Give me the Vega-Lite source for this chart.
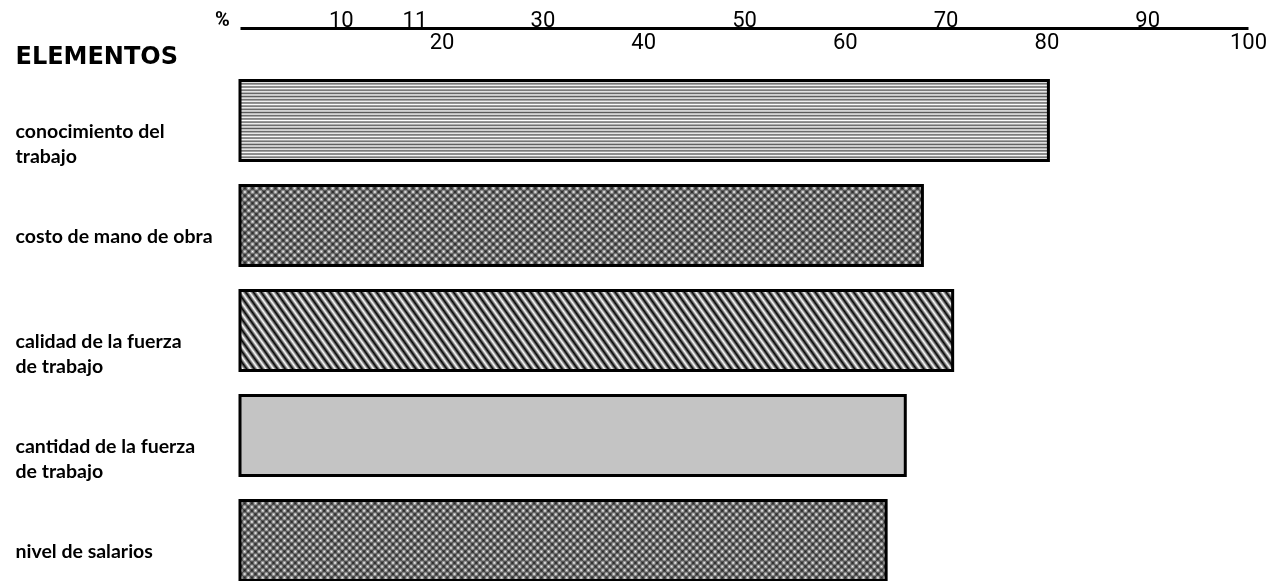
{
  "$schema": "https://vega.github.io/schema/vega-lite/v6.json",
  "width": 1008,
  "height": 513,
  "autosize": {"type": "none"},
  "padding": {"left": 240, "top": 68, "right": 23, "bottom": 0},
  "background": "#ffffff",
  "config": {"view": {"stroke": null}},
  "params": [
    {"name": "g", "value": {"gradient": "linear", "x1": 0, "y1": 1, "x2": 1.0731, "y2": 0.9142, "stops": [
      {"offset":0,"color":"#000"},{"offset":0.005,"color":"#fff"},{"offset":0.01,"color":"#000"},{"offset":0.015,"color":"#fff"},{"offset":0.02,"color":"#000"},{"offset":0.025,"color":"#fff"},{"offset":0.03,"color":"#000"},{"offset":0.035,"color":"#fff"},{"offset":0.04,"color":"#000"},{"offset":0.045,"color":"#fff"},
      {"offset":0.05,"color":"#000"},{"offset":0.055,"color":"#fff"},{"offset":0.06,"color":"#000"},{"offset":0.065,"color":"#fff"},{"offset":0.07,"color":"#000"},{"offset":0.075,"color":"#fff"},{"offset":0.08,"color":"#000"},{"offset":0.085,"color":"#fff"},{"offset":0.09,"color":"#000"},{"offset":0.095,"color":"#fff"},
      {"offset":0.1,"color":"#000"},{"offset":0.105,"color":"#fff"},{"offset":0.11,"color":"#000"},{"offset":0.115,"color":"#fff"},{"offset":0.12,"color":"#000"},{"offset":0.125,"color":"#fff"},{"offset":0.13,"color":"#000"},{"offset":0.135,"color":"#fff"},{"offset":0.14,"color":"#000"},{"offset":0.145,"color":"#fff"},
      {"offset":0.15,"color":"#000"},{"offset":0.155,"color":"#fff"},{"offset":0.16,"color":"#000"},{"offset":0.165,"color":"#fff"},{"offset":0.17,"color":"#000"},{"offset":0.175,"color":"#fff"},{"offset":0.18,"color":"#000"},{"offset":0.185,"color":"#fff"},{"offset":0.19,"color":"#000"},{"offset":0.195,"color":"#fff"},
      {"offset":0.2,"color":"#000"},{"offset":0.205,"color":"#fff"},{"offset":0.21,"color":"#000"},{"offset":0.215,"color":"#fff"},{"offset":0.22,"color":"#000"},{"offset":0.225,"color":"#fff"},{"offset":0.23,"color":"#000"},{"offset":0.235,"color":"#fff"},{"offset":0.24,"color":"#000"},{"offset":0.245,"color":"#fff"},
      {"offset":0.25,"color":"#000"},{"offset":0.255,"color":"#fff"},{"offset":0.26,"color":"#000"},{"offset":0.265,"color":"#fff"},{"offset":0.27,"color":"#000"},{"offset":0.275,"color":"#fff"},{"offset":0.28,"color":"#000"},{"offset":0.285,"color":"#fff"},{"offset":0.29,"color":"#000"},{"offset":0.295,"color":"#fff"},
      {"offset":0.3,"color":"#000"},{"offset":0.305,"color":"#fff"},{"offset":0.31,"color":"#000"},{"offset":0.315,"color":"#fff"},{"offset":0.32,"color":"#000"},{"offset":0.325,"color":"#fff"},{"offset":0.33,"color":"#000"},{"offset":0.335,"color":"#fff"},{"offset":0.34,"color":"#000"},{"offset":0.345,"color":"#fff"},
      {"offset":0.35,"color":"#000"},{"offset":0.355,"color":"#fff"},{"offset":0.36,"color":"#000"},{"offset":0.365,"color":"#fff"},{"offset":0.37,"color":"#000"},{"offset":0.375,"color":"#fff"},{"offset":0.38,"color":"#000"},{"offset":0.385,"color":"#fff"},{"offset":0.39,"color":"#000"},{"offset":0.395,"color":"#fff"},
      {"offset":0.4,"color":"#000"},{"offset":0.405,"color":"#fff"},{"offset":0.41,"color":"#000"},{"offset":0.415,"color":"#fff"},{"offset":0.42,"color":"#000"},{"offset":0.425,"color":"#fff"},{"offset":0.43,"color":"#000"},{"offset":0.435,"color":"#fff"},{"offset":0.44,"color":"#000"},{"offset":0.445,"color":"#fff"},
      {"offset":0.45,"color":"#000"},{"offset":0.455,"color":"#fff"},{"offset":0.46,"color":"#000"},{"offset":0.465,"color":"#fff"},{"offset":0.47,"color":"#000"},{"offset":0.475,"color":"#fff"},{"offset":0.48,"color":"#000"},{"offset":0.485,"color":"#fff"},{"offset":0.49,"color":"#000"},{"offset":0.495,"color":"#fff"},
      {"offset":0.5,"color":"#000"},{"offset":0.505,"color":"#fff"},{"offset":0.51,"color":"#000"},{"offset":0.515,"color":"#fff"},{"offset":0.52,"color":"#000"},{"offset":0.525,"color":"#fff"},{"offset":0.53,"color":"#000"},{"offset":0.535,"color":"#fff"},{"offset":0.54,"color":"#000"},{"offset":0.545,"color":"#fff"},
      {"offset":0.55,"color":"#000"},{"offset":0.555,"color":"#fff"},{"offset":0.56,"color":"#000"},{"offset":0.565,"color":"#fff"},{"offset":0.57,"color":"#000"},{"offset":0.575,"color":"#fff"},{"offset":0.58,"color":"#000"},{"offset":0.585,"color":"#fff"},{"offset":0.59,"color":"#000"},{"offset":0.595,"color":"#fff"},
      {"offset":0.6,"color":"#000"},{"offset":0.605,"color":"#fff"},{"offset":0.61,"color":"#000"},{"offset":0.615,"color":"#fff"},{"offset":0.62,"color":"#000"},{"offset":0.625,"color":"#fff"},{"offset":0.63,"color":"#000"},{"offset":0.635,"color":"#fff"},{"offset":0.64,"color":"#000"},{"offset":0.645,"color":"#fff"},
      {"offset":0.65,"color":"#000"},{"offset":0.655,"color":"#fff"},{"offset":0.66,"color":"#000"},{"offset":0.665,"color":"#fff"},{"offset":0.67,"color":"#000"},{"offset":0.675,"color":"#fff"},{"offset":0.68,"color":"#000"},{"offset":0.685,"color":"#fff"},{"offset":0.69,"color":"#000"},{"offset":0.695,"color":"#fff"},
      {"offset":0.7,"color":"#000"},{"offset":0.705,"color":"#fff"},{"offset":0.71,"color":"#000"},{"offset":0.715,"color":"#fff"},{"offset":0.72,"color":"#000"},{"offset":0.725,"color":"#fff"},{"offset":0.73,"color":"#000"},{"offset":0.735,"color":"#fff"},{"offset":0.74,"color":"#000"},{"offset":0.745,"color":"#fff"},
      {"offset":0.75,"color":"#000"},{"offset":0.755,"color":"#fff"},{"offset":0.76,"color":"#000"},{"offset":0.765,"color":"#fff"},{"offset":0.77,"color":"#000"},{"offset":0.775,"color":"#fff"},{"offset":0.78,"color":"#000"},{"offset":0.785,"color":"#fff"},{"offset":0.79,"color":"#000"},{"offset":0.795,"color":"#fff"},
      {"offset":0.8,"color":"#000"},{"offset":0.805,"color":"#fff"},{"offset":0.81,"color":"#000"},{"offset":0.815,"color":"#fff"},{"offset":0.82,"color":"#000"},{"offset":0.825,"color":"#fff"},{"offset":0.83,"color":"#000"},{"offset":0.835,"color":"#fff"},{"offset":0.84,"color":"#000"},{"offset":0.845,"color":"#fff"},
      {"offset":0.85,"color":"#000"},{"offset":0.855,"color":"#fff"},{"offset":0.86,"color":"#000"},{"offset":0.865,"color":"#fff"},{"offset":0.87,"color":"#000"},{"offset":0.875,"color":"#fff"},{"offset":0.88,"color":"#000"},{"offset":0.885,"color":"#fff"},{"offset":0.89,"color":"#000"},{"offset":0.895,"color":"#fff"},
      {"offset":0.9,"color":"#000"},{"offset":0.905,"color":"#fff"},{"offset":0.91,"color":"#000"},{"offset":0.915,"color":"#fff"},{"offset":0.92,"color":"#000"},{"offset":0.925,"color":"#fff"},{"offset":0.93,"color":"#000"},{"offset":0.935,"color":"#fff"},{"offset":0.94,"color":"#000"},{"offset":0.945,"color":"#fff"},
      {"offset":0.95,"color":"#000"},{"offset":0.955,"color":"#fff"},{"offset":0.96,"color":"#000"},{"offset":0.965,"color":"#fff"},{"offset":0.97,"color":"#000"},{"offset":0.975,"color":"#fff"},{"offset":0.98,"color":"#000"},{"offset":0.985,"color":"#fff"},{"offset":0.99,"color":"#000"},{"offset":0.995,"color":"#fff"},
      {"offset":1,"color":"#000"}
    ]}},
    {"name": "hl", "expr": "merge(g, {x1: 0, y1: 0, x2: 0.001, y2: 4})"},
    {"name": "dA", "expr": "merge(g, {x1: 0, y1: 1, x2: 1.1041, y2: 0.8675})"},
    {"name": "dB", "expr": "merge(g, {x1: 0, y1: 0, x2: 1.1041, y2: 0.1325})"}
  ],
  "data": {"values": [
    {"elemento": "conocimiento del|trabajo", "pct": 80.2},
    {"elemento": "costo de mano de obra", "pct": 67.7},
    {"elemento": "calidad de la fuerza|de trabajo", "pct": 70.7},
    {"elemento": "cantidad de la fuerza|de trabajo", "pct": 66.0},
    {"elemento": "nivel de salarios", "pct": 64.1}
  ]},
  "encoding": {
    "x": {
      "field": "pct", "type": "quantitative",
      "scale": {"domain": [0, 100], "nice": false},
      "axis": {
        "orient": "top", "offset": 40, "domainColor": "#000", "domainWidth": 3,
        "ticks": false, "tickSize": 0, "grid": false,
        "values": [10, 17.3, 20, 30, 40, 50, 60, 70, 80, 90, 100],
        "labelExpr": "datum.value == 17.3 ? ['11', ''] : (datum.value % 20 == 0 ? ['', datum.label] : [datum.label, ''])",
        "labelBaseline": "middle", "labelLineHeight": 22, "labelPadding": 9,
        "labelFont": "Roboto", "labelFontSize": 22, "labelColor": "#000",
        "labelFlush": false, "labelOverlap": false, "labelBound": false,
        "title": "%", "titleX": -18, "titleY": -9, "titleAlign": "center", "titleBaseline": "middle",
        "titleAngle": 0, "titleFont": "Roboto", "titleFontSize": 20, "titleFontWeight": "bold", "titleColor": "#000"
      }
    },
    "y": {
      "field": "elemento", "type": "nominal",
      "scale": {
        "domain": ["conocimiento del|trabajo", "costo de mano de obra", "calidad de la fuerza|de trabajo", "cantidad de la fuerza|de trabajo", "nivel de salarios"],
        "range": [0, 525], "paddingInner": 0.24, "paddingOuter": 0.12
      },
      "axis": {
        "orient": "left", "domain": false, "ticks": false, "tickSize": 0, "grid": false,
        "labelExpr": "split(datum.label, '|')",
        "labelAlign": "left", "labelBaseline": "top", "labelPadding": 225, "labelOffset": 2,
        "labelFont": "Lato", "labelFontWeight": "bold", "labelFontSize": 19.5, "labelLineHeight": 25,
        "labelLimit": 300, "labelColor": "#000",
        "title": "ELEMENTOS", "titleAngle": 0, "titleAlign": "left", "titleBaseline": "alphabetic",
        "titleX": -225, "titleY": -5, "titleFont": "DejaVu Sans", "titleFontSize": 24,
        "titleFontWeight": "bold", "titleColor": "#000"
      }
    }
  },
  "layer": [
    {
      "transform": [{"filter": {"field": "elemento", "oneOf": ["conocimiento del|trabajo"]}}],
      "mark": {"type": "bar", "fill": {"expr": "hl"}, "fillOpacity": 0.65, "stroke": "#000", "strokeWidth": 3}
    },
    {
      "transform": [{"filter": {"field": "elemento", "oneOf": ["costo de mano de obra", "nivel de salarios"]}}],
      "mark": {"type": "bar", "fill": {"expr": "dA"}, "fillOpacity": 0.65}
    },
    {
      "transform": [{"filter": {"field": "elemento", "oneOf": ["costo de mano de obra", "nivel de salarios"]}}],
      "mark": {"type": "bar", "fill": {"expr": "dB"}, "fillOpacity": 0.65, "blend": "multiply", "stroke": "#000", "strokeWidth": 3}
    },
    {
      "transform": [{"filter": {"field": "elemento", "oneOf": ["calidad de la fuerza|de trabajo"]}}],
      "mark": {"type": "bar", "fill": {"expr": "g"}, "stroke": "#000", "strokeWidth": 3}
    },
    {
      "transform": [{"filter": {"field": "elemento", "oneOf": ["cantidad de la fuerza|de trabajo"]}}],
      "mark": {"type": "bar", "fill": "#c4c4c4", "stroke": "#000", "strokeWidth": 3}
    }
  ]
}
